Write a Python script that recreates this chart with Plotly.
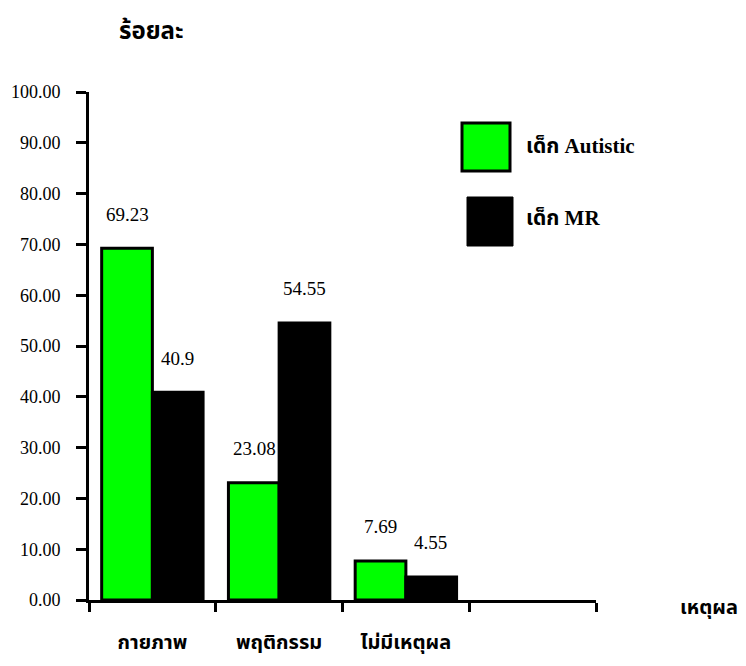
import plotly.graph_objects as go

categories = ["กายภาพ", "พฤติกรรม", "ไม่มีเหตุผล", " "]
series_names = ["เด็ก Autistic", "เด็ก MR"]
autistic = [69.23, 23.08, 7.69]
mr = [40.9, 54.55, 4.55]
autistic_labels = ["69.23", "23.08", "7.69"]
mr_labels = ["40.9", "54.55", "4.55"]
y_ticks = [0, 10, 20, 30, 40, 50, 60, 70, 80, 90, 100]

SERIF = "Liberation Serif, Times New Roman, serif"
THAI = "Liberation Serif, Noto Sans Thai, Tahoma, sans-serif"

fig = go.Figure()
fig.add_trace(go.Bar(x=categories[:3], y=autistic, name=series_names[0],
                     marker=dict(color="#00FF00", line=dict(color="black", width=3))))
fig.add_trace(go.Bar(x=categories[:3], y=mr, name=series_names[1],
                     marker=dict(color="black", line=dict(color="black", width=3))))

for i, (v, t) in enumerate(zip(autistic, autistic_labels)):
    fig.add_annotation(x=categories[i], y=v, text=t, showarrow=False, xshift=-25, yshift=34,
                       font=dict(family=SERIF, size=19, color="black"))
for i, (v, t) in enumerate(zip(mr, mr_labels)):
    fig.add_annotation(x=categories[i], y=v, text=t, showarrow=False, xshift=25, yshift=34,
                       font=dict(family=SERIF, size=19, color="black"))

# manual legend with large swatches (paper coords relative to plot area)
fig.add_shape(type="rect", xref="paper", yref="paper", x0=(462-89)/507, x1=(510-89)/507,
              y0=(600-171)/508, y1=(600-123)/508, fillcolor="#00FF00", line=dict(color="black", width=3))
fig.add_shape(type="rect", xref="paper", yref="paper", x0=(467-89)/507, x1=(513-89)/507,
              y0=(600-246)/508, y1=(600-197)/508, fillcolor="black", line=dict(color="black", width=1))
fig.add_annotation(xref="paper", yref="paper", x=(524-89)/507, y=(600-146)/508, text="<b>" + series_names[0] + "</b>",
                   showarrow=False, xanchor="left", yanchor="middle", font=dict(family=THAI, size=21, color="black"))
fig.add_annotation(xref="paper", yref="paper", x=(524-89)/507, y=(600-218)/508, text="<b>" + series_names[1] + "</b>",
                   showarrow=False, xanchor="left", yanchor="middle", font=dict(family=THAI, size=21, color="black"))

# axis titles
fig.add_annotation(xref="paper", yref="paper", x=(117-89)/507, y=(600-30)/508, text="<b>ร้อยละ</b>",
                   showarrow=False, xanchor="left", yanchor="middle", font=dict(family=THAI, size=24, color="black"))
fig.add_annotation(xref="paper", yref="paper", x=(678-89)/507, y=(600-607)/508, text="<b>เหตุผล</b>",
                   showarrow=False, xanchor="left", yanchor="middle", font=dict(family=THAI, size=20, color="black"))

fig.update_layout(
    width=738, height=658,
    margin=dict(l=81, r=150, t=84, b=66),
    paper_bgcolor="white", plot_bgcolor="white",
    showlegend=False,
    barmode="group", bargap=0.2, bargroupgap=0,
)
fig.update_xaxes(
    type="category", categoryorder="array", categoryarray=categories,
    range=[-0.5, 3.5], tickson="boundaries", automargin=False,
    ticks="outside", ticklen=9, tickwidth=3, tickcolor="black",
    showline=True, linecolor="black", linewidth=3,
    showgrid=False, zeroline=False,
    ticklabelstandoff=22,
    tickfont=dict(family=THAI, size=20, color="black"),
    tickvals=categories,
    ticktext=["<b>" + c + "</b>" for c in categories],
)
fig.update_yaxes(
    range=[0, 100], tickvals=y_ticks, tickformat=".2f", automargin=False,
    ticks="outside", ticklen=10, tickwidth=3, tickcolor="black",
    showline=True, linecolor="black", linewidth=3,
    showgrid=False, zeroline=False,
    tickfont=dict(family=SERIF, size=18, color="black"),
    ticklabelstandoff=12,
)

fig.write_html("out.html")
